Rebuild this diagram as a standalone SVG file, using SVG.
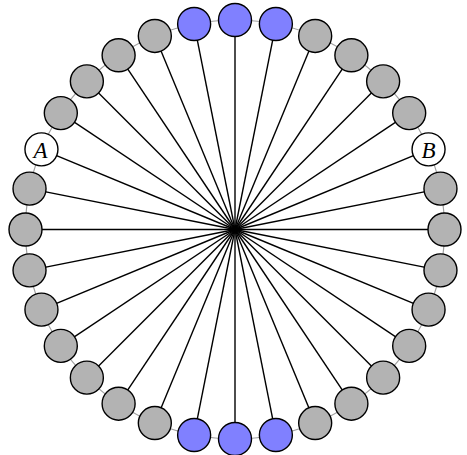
<svg xmlns="http://www.w3.org/2000/svg" width="467" height="455" viewBox="0 0 467 455">
<style>
.ring{fill:none;stroke:#a0a0a0;stroke-width:1.2}
.sp{stroke:#000;stroke-width:1.4}
.n{stroke:#000;stroke-width:1.4}
.g{fill:#b3b3b3}
.b{fill:#8080ff}
.w{fill:#fff}
.t{font-family:"Liberation Serif",serif;font-style:italic;font-size:23px;text-anchor:middle;fill:#000}
</style>
<rect width="467" height="455" fill="#fff"/>
<g id="connectors">
<circle class="ring" cx="235" cy="229.5" r="209.5"/>
<g class="sp">
<line x1="235" y1="229.5" x2="235" y2="20"/>
<line x1="235" y1="229.5" x2="275.87" y2="24.03"/>
<line x1="235" y1="229.5" x2="315.17" y2="35.95"/>
<line x1="235" y1="229.5" x2="351.39" y2="55.31"/>
<line x1="235" y1="229.5" x2="383.14" y2="81.36"/>
<line x1="235" y1="229.5" x2="409.19" y2="113.11"/>
<line x1="235" y1="229.5" x2="428.55" y2="149.33"/>
<line x1="235" y1="229.5" x2="440.47" y2="188.63"/>
<line x1="235" y1="229.5" x2="444.5" y2="229.5"/>
<line x1="235" y1="229.5" x2="440.47" y2="270.37"/>
<line x1="235" y1="229.5" x2="428.55" y2="309.67"/>
<line x1="235" y1="229.5" x2="409.19" y2="345.89"/>
<line x1="235" y1="229.5" x2="383.14" y2="377.64"/>
<line x1="235" y1="229.5" x2="351.39" y2="403.69"/>
<line x1="235" y1="229.5" x2="315.17" y2="423.05"/>
<line x1="235" y1="229.5" x2="275.87" y2="434.97"/>
<line x1="235" y1="229.5" x2="235" y2="439"/>
<line x1="235" y1="229.5" x2="194.13" y2="434.97"/>
<line x1="235" y1="229.5" x2="154.83" y2="423.05"/>
<line x1="235" y1="229.5" x2="118.61" y2="403.69"/>
<line x1="235" y1="229.5" x2="86.86" y2="377.64"/>
<line x1="235" y1="229.5" x2="60.81" y2="345.89"/>
<line x1="235" y1="229.5" x2="41.45" y2="309.67"/>
<line x1="235" y1="229.5" x2="29.53" y2="270.37"/>
<line x1="235" y1="229.5" x2="25.5" y2="229.5"/>
<line x1="235" y1="229.5" x2="29.53" y2="188.63"/>
<line x1="235" y1="229.5" x2="41.45" y2="149.33"/>
<line x1="235" y1="229.5" x2="60.81" y2="113.11"/>
<line x1="235" y1="229.5" x2="86.86" y2="81.36"/>
<line x1="235" y1="229.5" x2="118.61" y2="55.31"/>
<line x1="235" y1="229.5" x2="154.83" y2="35.95"/>
<line x1="235" y1="229.5" x2="194.13" y2="24.03"/>
</g>
</g>
<g id="n0"><circle class="n b" cx="235" cy="20" r="16.5"/></g>
<g id="n1"><circle class="n b" cx="275.87" cy="24.03" r="16.5"/></g>
<g id="n2"><circle class="n g" cx="315.17" cy="35.95" r="16.5"/></g>
<g id="n3"><circle class="n g" cx="351.39" cy="55.31" r="16.5"/></g>
<g id="n4"><circle class="n g" cx="383.14" cy="81.36" r="16.5"/></g>
<g id="n5"><circle class="n g" cx="409.19" cy="113.11" r="16.5"/></g>
<g id="nB"><circle class="n w" cx="428.55" cy="149.33" r="16.5"/><text class="t" x="428.5" y="157.5">B</text></g>
<g id="n7"><circle class="n g" cx="440.47" cy="188.63" r="16.5"/></g>
<g id="n8"><circle class="n g" cx="444.5" cy="229.5" r="16.5"/></g>
<g id="n9"><circle class="n g" cx="440.47" cy="270.37" r="16.5"/></g>
<g id="n10"><circle class="n g" cx="428.55" cy="309.67" r="16.5"/></g>
<g id="n11"><circle class="n g" cx="409.19" cy="345.89" r="16.5"/></g>
<g id="n12"><circle class="n g" cx="383.14" cy="377.64" r="16.5"/></g>
<g id="n13"><circle class="n g" cx="351.39" cy="403.69" r="16.5"/></g>
<g id="n14"><circle class="n g" cx="315.17" cy="423.05" r="16.5"/></g>
<g id="n15"><circle class="n b" cx="275.87" cy="434.97" r="16.5"/></g>
<g id="n16"><circle class="n b" cx="235" cy="439" r="16.5"/></g>
<g id="n17"><circle class="n b" cx="194.13" cy="434.97" r="16.5"/></g>
<g id="n18"><circle class="n g" cx="154.83" cy="423.05" r="16.5"/></g>
<g id="n19"><circle class="n g" cx="118.61" cy="403.69" r="16.5"/></g>
<g id="n20"><circle class="n g" cx="86.86" cy="377.64" r="16.5"/></g>
<g id="n21"><circle class="n g" cx="60.81" cy="345.89" r="16.5"/></g>
<g id="n22"><circle class="n g" cx="41.45" cy="309.67" r="16.5"/></g>
<g id="n23"><circle class="n g" cx="29.53" cy="270.37" r="16.5"/></g>
<g id="n24"><circle class="n g" cx="25.5" cy="229.5" r="16.5"/></g>
<g id="n25"><circle class="n g" cx="29.53" cy="188.63" r="16.5"/></g>
<g id="nA"><circle class="n w" cx="41.45" cy="149.33" r="16.5"/><text class="t" x="40.5" y="157.5">A</text></g>
<g id="n27"><circle class="n g" cx="60.81" cy="113.11" r="16.5"/></g>
<g id="n28"><circle class="n g" cx="86.86" cy="81.36" r="16.5"/></g>
<g id="n29"><circle class="n g" cx="118.61" cy="55.31" r="16.5"/></g>
<g id="n30"><circle class="n g" cx="154.83" cy="35.95" r="16.5"/></g>
<g id="n31"><circle class="n b" cx="194.13" cy="24.03" r="16.5"/></g>
</svg>
